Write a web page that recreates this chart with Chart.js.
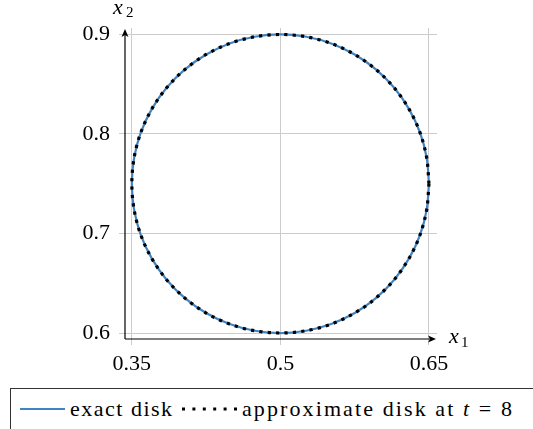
<!DOCTYPE html>
<html>
<head>
<meta charset="utf-8">
<script src="https://cdn.jsdelivr.net/npm/chart.js@4.4.0/dist/chart.umd.min.js"></script>
<style>
    html, body {
        margin: 0;
        padding: 0;
        background: #ffffff;
        overflow: hidden;
    }
    #wrap {
        position: relative;
        width: 533px;
        height: 429px;
    }
    #chart-box {
        position: absolute;
        left: 0;
        top: 0;
        width: 533px;
        height: 380px;
    }
    #legend {
        position: absolute;
        left: 10px;
        top: 388px;
        width: 560px;
        height: 60px;
        border: 1px solid #333333;
        font-family: "Liberation Serif", "Times New Roman", "DejaVu Serif", serif;
        font-size: 22px;
        color: #000000;
    }
    .leg-text {
        position: absolute;
        top: 7px;
        white-space: nowrap;
    }
    .leg-line {
        position: absolute;
        top: 0;
    }
</style>
</head>
<body>
<div id="wrap">
    <div id="chart-box"><canvas id="diskChart"></canvas></div>
    <div id="legend">
        <svg class="leg-line" width="50" height="40" style="left: 9px;">
            <line x1="0" y1="20" x2="45" y2="20" stroke="#3f85c5" stroke-width="2"></line>
        </svg>
        <span class="leg-text" style="left: 59px; letter-spacing: 1.5px;">exact disk</span>
        <svg class="leg-line" width="60" height="40" style="left: 171px;">
            <line x1="0" y1="20" x2="56" y2="20" stroke="#000000" stroke-width="3" stroke-dasharray="3 7.4"></line>
        </svg>
        <span class="leg-text" style="left: 231px; letter-spacing: 2.1px;">approximate disk at <i>t</i> = 8</span>
    </div>
</div>
<script>
// Circle points, every 10 degrees (centre 0.5, 0.75)
const exactX = [0.65, 0.6477, 0.6410, 0.6299, 0.6149, 0.5964, 0.575, 0.5513, 0.5260, 0.5,
    0.4740, 0.4487, 0.425, 0.4036, 0.3851, 0.3701, 0.3590, 0.3523, 0.35,
    0.3523, 0.3590, 0.3701, 0.3851, 0.4036, 0.425, 0.4487, 0.4740, 0.5,
    0.5260, 0.5513, 0.575, 0.5964, 0.6149, 0.6299, 0.6410, 0.6477, 0.65];
const exactY = [0.75, 0.7760, 0.8013, 0.825, 0.8464, 0.8649, 0.8799, 0.8910, 0.8977, 0.9,
    0.8977, 0.8910, 0.8799, 0.8649, 0.8464, 0.825, 0.8013, 0.7760, 0.75,
    0.7240, 0.6987, 0.675, 0.6536, 0.6351, 0.6201, 0.6090, 0.6023, 0.6,
    0.6023, 0.6090, 0.6201, 0.6351, 0.6536, 0.675, 0.6987, 0.7240, 0.75];

// Approximate disk sits on top of the exact one in the picture
const approxX = [0.65, 0.6477, 0.6410, 0.6299, 0.6149, 0.5964, 0.575, 0.5513, 0.5260, 0.5,
    0.4740, 0.4487, 0.425, 0.4036, 0.3851, 0.3701, 0.3590, 0.3523, 0.35,
    0.3523, 0.3590, 0.3701, 0.3851, 0.4036, 0.425, 0.4487, 0.4740, 0.5,
    0.5260, 0.5513, 0.575, 0.5964, 0.6149, 0.6299, 0.6410, 0.6477, 0.65];
const approxY = [0.75, 0.7760, 0.8013, 0.825, 0.8464, 0.8649, 0.8799, 0.8910, 0.8977, 0.9,
    0.8977, 0.8910, 0.8799, 0.8649, 0.8464, 0.825, 0.8013, 0.7760, 0.75,
    0.7240, 0.6987, 0.675, 0.6536, 0.6351, 0.6201, 0.6090, 0.6023, 0.6,
    0.6023, 0.6090, 0.6201, 0.6351, 0.6536, 0.675, 0.6987, 0.7240, 0.75];

// Tick positions
const xTicks = [0.35, 0.5, 0.65];
const yTicks = [0.6, 0.7, 0.8, 0.9];

const SERIF = '"Liberation Serif", "Times New Roman", "DejaVu Serif", serif';

function toPoints(xs, ys) {
    return xs.map((x, i) => ({ x: x, y: ys[i] }));
}

// Axis lines with arrow heads and the x1 / x2 labels
const axisArrows = {
    id: 'axisArrows',
    afterDraw(chart) {
        const ctx = chart.ctx;
        const area = chart.chartArea;
        ctx.save();
        ctx.strokeStyle = '#000000';
        ctx.fillStyle = '#000000';
        ctx.lineWidth = 1.2;

        // y axis
        ctx.beginPath();
        ctx.moveTo(area.left, area.bottom);
        ctx.lineTo(area.left, area.top + 3);
        ctx.stroke();
        ctx.beginPath();
        ctx.moveTo(area.left, area.top + 1);
        ctx.lineTo(area.left - 3.5, area.top + 9);
        ctx.lineTo(area.left, area.top + 7);
        ctx.lineTo(area.left + 3.5, area.top + 9);
        ctx.closePath();
        ctx.fill();

        // x axis
        ctx.beginPath();
        ctx.moveTo(area.left, area.bottom);
        ctx.lineTo(area.right - 3, area.bottom);
        ctx.stroke();
        ctx.beginPath();
        ctx.moveTo(area.right - 1, area.bottom);
        ctx.lineTo(area.right - 9, area.bottom - 3.5);
        ctx.lineTo(area.right - 7, area.bottom);
        ctx.lineTo(area.right - 9, area.bottom + 3.5);
        ctx.closePath();
        ctx.fill();

        // axis titles
        ctx.textBaseline = 'alphabetic';
        ctx.textAlign = 'left';
        ctx.font = 'italic 22px ' + SERIF;
        ctx.fillText('x', 113, 14);
        ctx.fillText('x', 449, 343);
        ctx.font = '15px ' + SERIF;
        ctx.fillText('2', 126, 17);
        ctx.fillText('1', 461, 347);
        ctx.restore();
    }
};

const chart = new Chart(document.getElementById('diskChart').getContext('2d'), {
    type: 'scatter',
    data: {
        datasets: [
            {
                label: 'exact disk',
                data: toPoints(exactX, exactY),
                showLine: true,
                borderColor: '#3f85c5',
                borderWidth: 2.2,
                pointRadius: 0,
                tension: 0.33,
                fill: false,
                order: 2
            },
            {
                label: 'approximate disk at t = 8',
                data: toPoints(approxX, approxY),
                showLine: true,
                borderColor: '#000000',
                borderWidth: 3.2,
                borderDash: [3.2, 5.2],
                pointRadius: 0,
                tension: 0.33,
                fill: false,
                order: 1
            }
        ]
    },
    options: {
        animation: false,
        responsive: true,
        maintainAspectRatio: false,
        layout: {
            padding: { left: 0, right: 96, top: 28, bottom: 0 }
        },
        plugins: {
            legend: { display: false },
            tooltip: { enabled: false }
        },
        scales: {
            x: {
                type: 'linear',
                min: 0.3431,
                max: 0.6581,
                afterBuildTicks: (scale) => {
                    scale.ticks = xTicks.map(v => ({ value: v }));
                },
                afterFit: (scale) => {
                    scale.height = 41;
                },
                border: { display: false },
                grid: {
                    color: '#cccccc',
                    lineWidth: 1,
                    tickLength: 6
                },
                ticks: {
                    color: '#000000',
                    padding: 6,
                    maxRotation: 0,
                    font: { family: SERIF, size: 22 },
                    callback: (v) => String(v)
                }
            },
            y: {
                type: 'linear',
                min: 0.594,
                max: 0.9065,
                afterBuildTicks: (scale) => {
                    scale.ticks = yTicks.map(v => ({ value: v }));
                },
                afterFit: (scale) => {
                    scale.width = 125;
                },
                border: { display: false },
                grid: {
                    color: '#cccccc',
                    lineWidth: 1,
                    tickLength: 6
                },
                ticks: {
                    color: '#000000',
                    padding: 9,
                    font: { family: SERIF, size: 22 },
                    callback: (v) => String(v)
                }
            }
        }
    },
    plugins: [axisArrows]
});
</script>
</body>
</html>
